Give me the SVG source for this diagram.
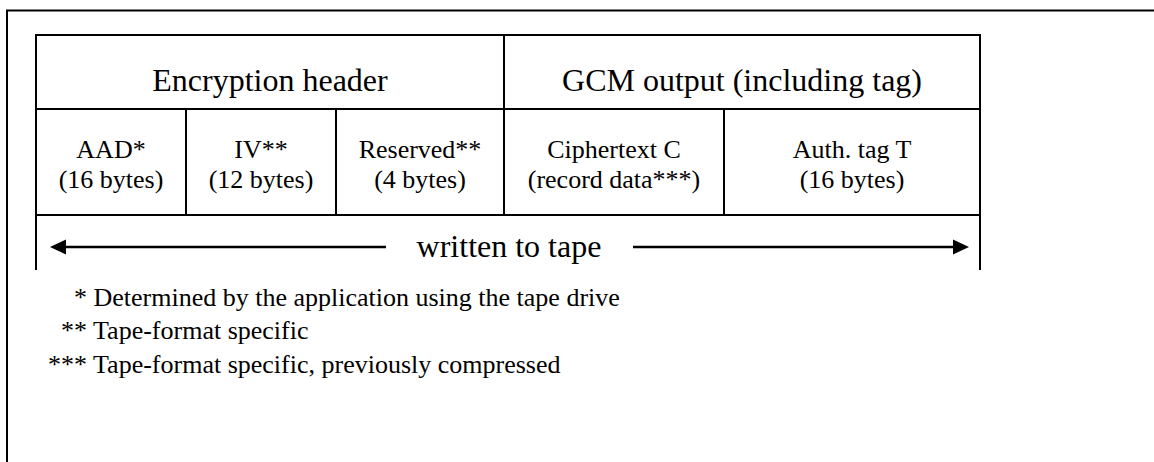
<svg xmlns="http://www.w3.org/2000/svg" width="1154" height="462" viewBox="0 0 1154 462">
<style>
.ln{stroke:#000;stroke-width:2;fill:none}
text{font-family:'Liberation Serif',Tinos,'Times New Roman','DejaVu Serif',serif;fill:#000}
.big{font-size:32px;text-anchor:middle}
.cell{font-size:26px;text-anchor:middle}
.note{font-size:26px}
</style>
<rect width="1154" height="462" fill="#fff"/>
<rect x="7" y="10.5" width="1200" height="500" class="ln"/>
<g id="encryption-header">
<rect x="36" y="35" width="468" height="74" class="ln"/>
<text x="270" y="91" class="big">Encryption header</text>
</g>
<g id="gcm-output">
<rect x="504" y="35" width="476" height="74" class="ln"/>
<text x="742" y="91" class="big">GCM output (including tag)</text>
</g>
<g id="aad">
<rect x="36" y="109" width="150" height="106" class="ln"/>
<text x="111" y="158" class="cell">AAD*</text>
<text x="111" y="188" class="cell">(16 bytes)</text>
</g>
<g id="iv">
<rect x="186" y="109" width="150" height="106" class="ln"/>
<text x="261" y="158" class="cell">IV**</text>
<text x="261" y="188" class="cell">(12 bytes)</text>
</g>
<g id="reserved">
<rect x="336" y="109" width="168" height="106" class="ln"/>
<text x="420" y="158" class="cell">Reserved**</text>
<text x="420" y="188" class="cell">(4 bytes)</text>
</g>
<g id="ciphertext">
<rect x="504" y="109" width="220" height="106" class="ln"/>
<text x="614" y="158" class="cell">Ciphertext C</text>
<text x="614" y="188" class="cell">(record data***)</text>
</g>
<g id="auth-tag">
<rect x="724" y="109" width="256" height="106" class="ln"/>
<text x="852" y="158" class="cell">Auth. tag T</text>
<text x="852" y="188" class="cell">(16 bytes)</text>
</g>
<g id="connectors">
<line x1="36" y1="215" x2="36" y2="270" class="ln"/>
<line x1="980" y1="215" x2="980" y2="270" class="ln"/>
<line x1="64" y1="247" x2="386" y2="247" stroke="#000" stroke-width="2.5"/>
<polygon points="50,247 66,239.5 66,254.5" fill="#000"/>
<line x1="633" y1="247" x2="955" y2="247" stroke="#000" stroke-width="2.5"/>
<polygon points="969,247 953,239.5 953,254.5" fill="#000"/>
</g>
<text x="509" y="257" class="big">written to tape</text>
<g id="notes">
<text x="74" y="306" class="note">* Determined by the application using the tape drive</text>
<text x="61" y="339" class="note">** Tape-format specific</text>
<text x="48" y="373" class="note">*** Tape-format specific, previously compressed</text>
</g>
</svg>
